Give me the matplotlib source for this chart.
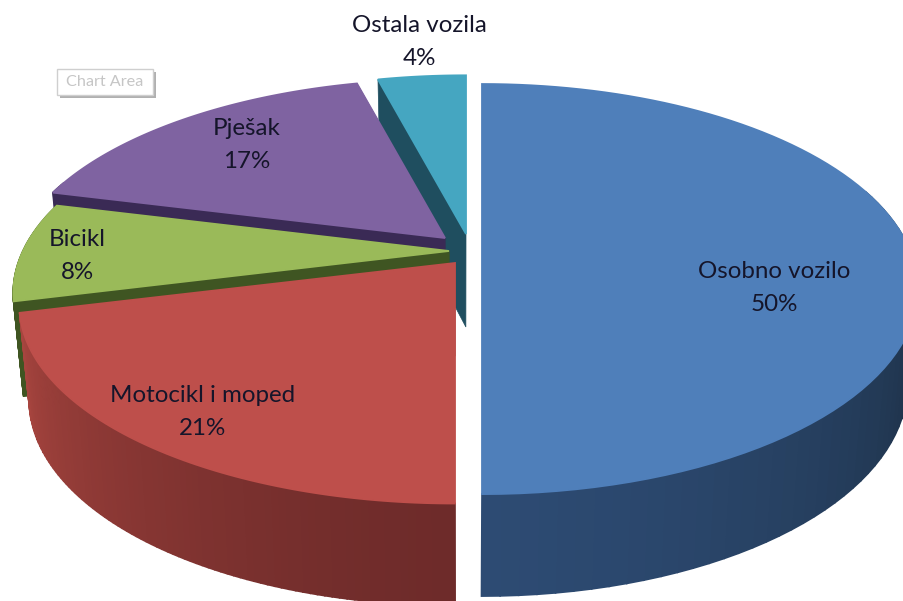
import numpy as np
import matplotlib
matplotlib.use("Agg")
import matplotlib.pyplot as plt
from matplotlib.colors import to_rgb
from matplotlib.patches import Polygon, Rectangle

# ============================
# Data
# ============================

categories = ["Osobno vozilo", "Motocikl i moped", "Bicikl", "Pješak", "Ostala vozila"]
shares = [50, 21, 8, 17, 4]

# ============================
# Style and 3D look
# ============================

top_colors = ["#4F7FBA", "#BE4F4B", "#9ABA59", "#7F63A1", "#45A6C1"]
wall_near = ["#2D4B73", "#6E2B2A", "#3F5522", "#3A2A55", "#1F4E5F"]   # colour at the front
wall_far = ["#1E3249", "#A8453F", "#3F5522", "#3A2A55", "#1F4E5F"]    # colour away from front
apex = [(482, 246), (455, 263), (449, 251), (445, 238), (466, 234)]
tilts = [196, 190, 192, 192, 192]
label_pos = [(774, 288), (203, 412), (77, 256), (247, 145), (419, 42)]

R = 426
K = 0.21
VP_X = 460
VP_A = 0.0225


def rim(cx, cy, tilt, theta):
    # theta clockwise from 12 o'clock, degrees
    t = np.radians(theta)
    X = np.sin(t)
    Y = -np.cos(t)
    s = 1 / (1 - K * Y)
    return cx + R * X * s, cy + tilt * Y * s, Y


def drop(x, y, Y):
    return x + (VP_X - x) * VP_A, y + 93 + 9 * Y


def mix(a, b, f):
    a, b = np.array(to_rgb(a)), np.array(to_rgb(b))
    return tuple(a + (b - a) * f)


fig = plt.figure(figsize=(9.04, 6.01), dpi=100)
ax = fig.add_axes([0, 0, 1, 1])
ax.set_xlim(0, 904)
ax.set_ylim(601, 0)
ax.axis("off")

edges = np.cumsum([0] + shares) * 3.6

# back slices first, so the front ones cover them
for i in reversed(range(len(shares))):
    cx, cy = apex[i]
    angles = np.linspace(edges[i], edges[i + 1], 90)
    px, py, pY = rim(cx, cy, tilts[i], angles)
    bx, by = drop(px, py, pY)
    ax_b, ay_b = drop(cx, cy, 0)

    # radial faces, the ones on the vertical split are edge-on
    for j in (0, -1):
        if abs(np.sin(np.radians(angles[j]))) < 0.01:
            continue
        ax.add_patch(Polygon([(cx, cy), (px[j], py[j]), (bx[j], by[j]), (ax_b, ay_b)],
                             closed=True, fc=wall_near[i], ec=wall_near[i], lw=0.5))

    # outer wall, shaded facet by facet, rear part is hidden anyway
    for j in range(len(angles) - 1):
        if pY[j] < -0.3:
            continue
        f = min(1.0, (1 - pY[j]) / 0.75) ** 0.7
        c = mix(wall_near[i], wall_far[i], f)
        ax.add_patch(Polygon([(px[j], py[j]), (px[j + 1], py[j + 1]),
                              (bx[j + 1], by[j + 1]), (bx[j], by[j])],
                             closed=True, fc=c, ec=c, lw=1.2))

    # top of the slice
    ax.add_patch(Polygon(np.column_stack([np.r_[cx, px], np.r_[cy, py]]),
                         closed=True, fc=top_colors[i], ec=top_colors[i], lw=1.3))

# ============================
# Labels
# ============================

for name, share, pos in zip(categories, shares, label_pos):
    ax.text(pos[0], pos[1], f"{name}\n{share}%", ha="center", va="center",
            fontsize=17.4, family="Lato", color="#15152a", linespacing=1.65)

# "Chart Area" tooltip left in the screenshot
ax.add_patch(Rectangle((60, 72), 96, 26, fc="#b0b0b0", ec="none"))
ax.add_patch(Rectangle((57, 69), 96, 26, fc="white", ec="#cfcfcf", lw=1))
ax.text(105, 82, "Chart Area", ha="center", va="center", fontsize=11.7,
        family="Lato", color="#c6c6c6")

plt.savefig("out.png", dpi=100)
